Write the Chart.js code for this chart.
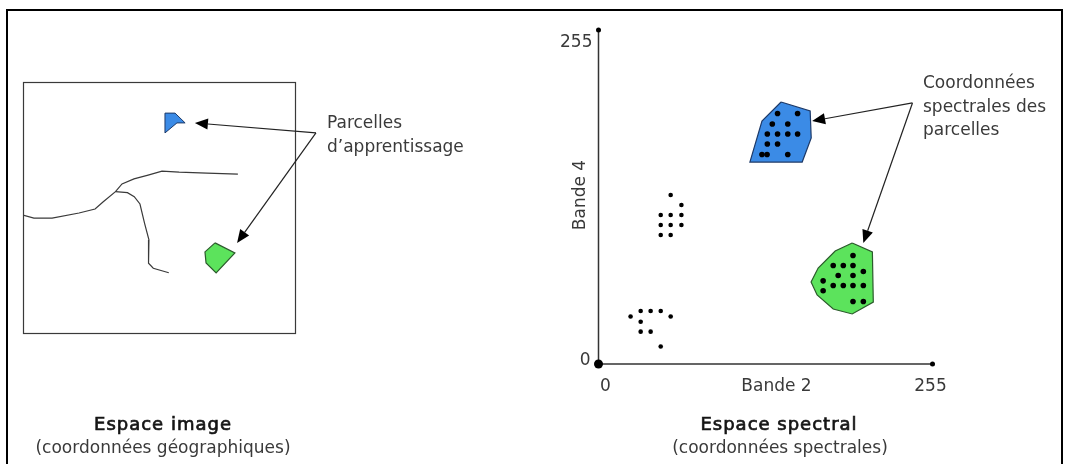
<!DOCTYPE html>
<html><head><meta charset="utf-8">
<script src="https://cdn.jsdelivr.net/npm/chart.js@4.4.1/dist/chart.umd.min.js"></script>
<style>
html,body{margin:0;padding:0;background:#fff;width:1070px;height:464px;overflow:hidden}
#frame{position:absolute;left:6px;top:9px;width:1057px;height:480px;border:2px solid #000;box-sizing:border-box}
canvas{position:absolute;top:0}
#left{left:0}
#right{left:540px}
</style></head><body>
<div id="frame"></div>
<canvas id="left" width="540" height="464"></canvas>
<canvas id="right" width="530" height="464"></canvas>
<script>
// ---------- Espace image (coordonnées géographiques, 0–100) ----------
const imageBluePlot  = [[52.2,87.6],[55.9,87.6],[59.6,83.7],[56.6,83.7],[52.2,79.7]];
const imageGreenPlot = [[70.6,35.9],[77.9,31.9],[71.0,23.9],[67.3,27.9],[66.9,32.3]];
const riverMain = [[0,47.0],[4.0,45.8],[10.7,45.8],[20.6,47.8],[26.5,49.4],[29.4,52.2],[34.0,56.3],[36.4,59.4],[40.8,61.4],[46.0,62.9],[51.1,64.5],[57.4,64.1],[67.6,63.7],[79.0,63.3]];
const riverBranch = [[34.0,56.3],[38.4,55.9],[40.9,54.3],[43.0,51.4],[44.7,43.7],[46.3,37.1],[46.3,31.8],[46.0,27.8],[47.9,25.8],[53.6,24.0]];
const imageArrowFrom = [107.7,79.7];
const imageArrowTo = [[63.2,83.7],[78.7,35.9]];
const imageLabel = ['Parcelles','d\u2019apprentissage'];
const imageTitle = ['Espace image','(coordonnées géographiques)'];

// ---------- Espace spectral (Bande 2 / Bande 4, 0–255) ----------
const axisMin = 0, axisMax = 255;
const xTickLabels = ['0','255'];
const yTickLabels = ['0','255'];
const xAxisTitle = 'Bande 2';
const yAxisTitle = 'Bande 4';
const blueHull = [[139.4,200.0],[161.6,193.2],[162.4,172.6],[155.5,154.2],[115.6,154.2],[124.8,185.5]];
const blueDots = [[136.7,191.3],[152.0,191.3],[132.7,183.2],[144.5,183.2],[128.9,175.6],[136.7,175.6],[144.5,175.6],[152.0,175.6],[128.9,168.0],[136.7,168.0],[124.8,160.0],[128.7,160.0],[144.5,160.0]];
const greenHull = [[193.7,92.4],[209.1,85.5],[209.8,47.3],[193.7,38.2],[179.2,42.0],[166.9,52.7],[162.3,62.6],[167.7,73.3],[180.7,86.3]];
const greenDots = [[194.3,82.8],[179.2,75.2],[186.9,75.2],[194.3,75.2],[183.0,67.6],[194.3,67.6],[202.2,70.6],[171.5,63.5],[179.2,59.9],[186.9,59.9],[194.3,59.9],[202.2,59.9],[171.5,55.9],[194.3,47.7],[202.2,47.7]];
const clusterUpper = [[55.1,129.0],[63.3,121.4],[47.5,113.8],[55.1,113.8],[63.3,113.8],[47.5,106.1],[55.1,106.1],[63.3,106.1],[47.5,98.5],[55.1,98.5]];
const clusterLower = [[32.2,40.5],[39.8,40.5],[47.5,40.5],[24.5,36.3],[55.1,36.3],[32.2,32.3],[32.2,24.7],[39.8,24.7],[47.5,13.4]];
const spectralArrowFrom = [239.7,199.3];
const spectralArrowTo = [[163.1,185.5],[202.2,92.4]];
const spectralLabel = ['Coordonnées','spectrales des','parcelles'];
const spectralTitle = ['Espace spectral','(coordonnées spectrales)'];

// ---------- helpers ----------
const FONT = '"DejaVu Sans", Verdana, sans-serif';
const toXY = a => a.map(([x,y]) => ({x,y}));
const closed = a => toXY([...a, a[0]]);
const BLUE = '#3b8be6', BLUE_EDGE = '#1e3a68';
const GREEN = '#5ce35c', GREEN_EDGE = '#2c5a2c';

function arrow(ctx, x1, y1, x2, y2) {
  const ang = Math.atan2(y2 - y1, x2 - x1), L = 13, W = 5.5;
  const bx = x2 - L*Math.cos(ang), by = y2 - L*Math.sin(ang);
  ctx.save();
  ctx.strokeStyle = '#222'; ctx.lineWidth = 1.2;
  ctx.beginPath(); ctx.moveTo(x1, y1); ctx.lineTo(bx, by); ctx.stroke();
  ctx.fillStyle = '#000';
  ctx.beginPath(); ctx.moveTo(x2, y2);
  ctx.lineTo(bx + W*Math.sin(ang), by - W*Math.cos(ang));
  ctx.lineTo(bx - W*Math.sin(ang), by + W*Math.cos(ang));
  ctx.closePath(); ctx.fill();
  ctx.restore();
}
function text(ctx, s, x, y, opts) {
  ctx.save();
  ctx.font = (opts.size || 17) + 'px ' + FONT;
  ctx.fillStyle = opts.color || '#3a3a3a';
  ctx.textAlign = opts.align || 'left';
  ctx.textBaseline = 'alphabetic';
  if (opts.spacing) ctx.letterSpacing = opts.spacing;
  if (opts.rotate) { ctx.translate(x, y); ctx.rotate(opts.rotate); x = 0; y = 0; }
  ctx.fillText(s, x, y);
  if (opts.heavy) { ctx.strokeStyle = ctx.fillStyle; ctx.lineWidth = opts.heavy; ctx.strokeText(s, x, y); }
  ctx.restore();
}
const TITLE = { align: 'center', size: 18, spacing: '1px', heavy: 0.7, color: '#151515' };

const baseOpts = (pad, xmax, ymax) => ({
  responsive: false, animation: false, devicePixelRatio: 1,
  layout: { padding: pad },
  scales: {
    x: { type: 'linear', min: 0, max: xmax, display: false },
    y: { type: 'linear', min: 0, max: ymax, display: false }
  },
  plugins: { legend: { display: false }, tooltip: { enabled: false } },
  events: []
});

// ---------- left chart ----------
const leftDecor = {
  id: 'leftDecor',
  afterDraw(chart) {
    const { ctx, chartArea: a, scales: { x, y } } = chart;
    ctx.save();
    ctx.strokeStyle = '#3a3a3a'; ctx.lineWidth = 1.2;
    ctx.strokeRect(Math.round(a.left) + 0.5, Math.round(a.top) + 0.5, a.right - a.left, a.bottom - a.top);
    ctx.restore();
    const fx = x.getPixelForValue(imageArrowFrom[0]), fy = y.getPixelForValue(imageArrowFrom[1]);
    imageArrowTo.forEach(([tx, ty]) => arrow(ctx, fx, fy, x.getPixelForValue(tx), y.getPixelForValue(ty)));
    text(ctx, imageLabel[0], 327, 128, {});
    text(ctx, imageLabel[1], 327, 152, {});
    text(ctx, imageTitle[0], 163, 430, TITLE);
    text(ctx, imageTitle[1], 163, 453, { align: 'center' });
  }
};
const line = (pts, extra) => Object.assign({ data: pts, showLine: true, pointRadius: 0, tension: 0, fill: false }, extra);
new Chart(document.getElementById('left'), {
  type: 'scatter',
  data: { datasets: [
    line(closed(imageBluePlot), { borderColor: BLUE_EDGE, borderWidth: 1, backgroundColor: BLUE, fill: 'shape' }),
    line(closed(imageGreenPlot), { borderColor: GREEN_EDGE, borderWidth: 1.2, backgroundColor: GREEN, fill: 'shape' }),
    line(toXY(riverMain), { borderColor: '#3a3a3a', borderWidth: 1.2 }),
    line(toXY(riverBranch), { borderColor: '#3a3a3a', borderWidth: 1.2 })
  ]},
  options: baseOpts({ left: 23, right: 245, top: 82, bottom: 131 }, 100, 100),
  plugins: [leftDecor]
});

// ---------- right chart ----------
const rightDecor = {
  id: 'rightDecor',
  beforeDatasetsDraw(chart) {
    const { ctx, scales: { x, y } } = chart;
    const x0 = x.getPixelForValue(axisMin), x1 = x.getPixelForValue(axisMax);
    const y0 = y.getPixelForValue(axisMin), y1 = y.getPixelForValue(axisMax);
    ctx.save();
    ctx.strokeStyle = '#333'; ctx.lineWidth = 1.5;
    ctx.beginPath(); ctx.moveTo(x0, y1); ctx.lineTo(x0, y0); ctx.lineTo(x1, y0); ctx.stroke();
    ctx.fillStyle = '#000';
    [[x0, y0, 4.5], [x0, y1, 2.5], [x1, y0, 2.5]].forEach(([px, py, r]) => {
      ctx.beginPath(); ctx.arc(px, py, r, 0, Math.PI*2); ctx.fill();
    });
    ctx.restore();
    text(ctx, yTickLabels[1], x0 - 6, y1 + 17, { align: 'right' });
    text(ctx, yTickLabels[0], x0 - 8, y0 + 1, { align: 'right' });
    text(ctx, xTickLabels[0], x0 + 7, y0 + 27, { align: 'center' });
    text(ctx, xTickLabels[1], x1 - 2, y0 + 27, { align: 'center' });
    text(ctx, xAxisTitle, (x0 + x1) / 2 + 11, y0 + 27, { align: 'center' });
    text(ctx, yAxisTitle, x0 - 14, (y0 + y1) / 2 - 2, { align: 'center', rotate: -Math.PI/2 });
  },
  afterDraw(chart) {
    const { ctx, scales: { x, y } } = chart;
    const fx = x.getPixelForValue(spectralArrowFrom[0]), fy = y.getPixelForValue(spectralArrowFrom[1]);
    spectralArrowTo.forEach(([tx, ty]) => arrow(ctx, fx, fy, x.getPixelForValue(tx), y.getPixelForValue(ty)));
    text(ctx, spectralLabel[0], 383, 88, {});
    text(ctx, spectralLabel[1], 383, 112, {});
    text(ctx, spectralLabel[2], 383, 135, {});
    text(ctx, spectralTitle[0], 239, 430, TITLE);
    text(ctx, spectralTitle[1], 240, 453, { align: 'center' });
  }
};
const dots = (pts, r) => ({ data: toXY(pts), pointRadius: r, pointBackgroundColor: '#000', pointBorderWidth: 0, showLine: false });
new Chart(document.getElementById('right'), {
  type: 'scatter',
  data: { datasets: [
    Object.assign(dots(blueDots, 2.8), { order: 0 }),
    Object.assign(dots(greenDots, 2.8), { order: 0 }),
    Object.assign(dots(clusterUpper, 2.3), { order: 0 }),
    Object.assign(dots(clusterLower, 2.3), { order: 0 }),
    line(closed(blueHull), { borderColor: BLUE_EDGE, borderWidth: 1.2, backgroundColor: BLUE, fill: 'shape', order: 1 }),
    line(closed(greenHull), { borderColor: GREEN_EDGE, borderWidth: 1.2, backgroundColor: GREEN, fill: 'shape', order: 1 })
  ]},
  options: baseOpts({ left: 58.5, right: 137.5, top: 30, bottom: 100 }, axisMax, axisMax),
  plugins: [rightDecor]
});
</script>
</body></html>
